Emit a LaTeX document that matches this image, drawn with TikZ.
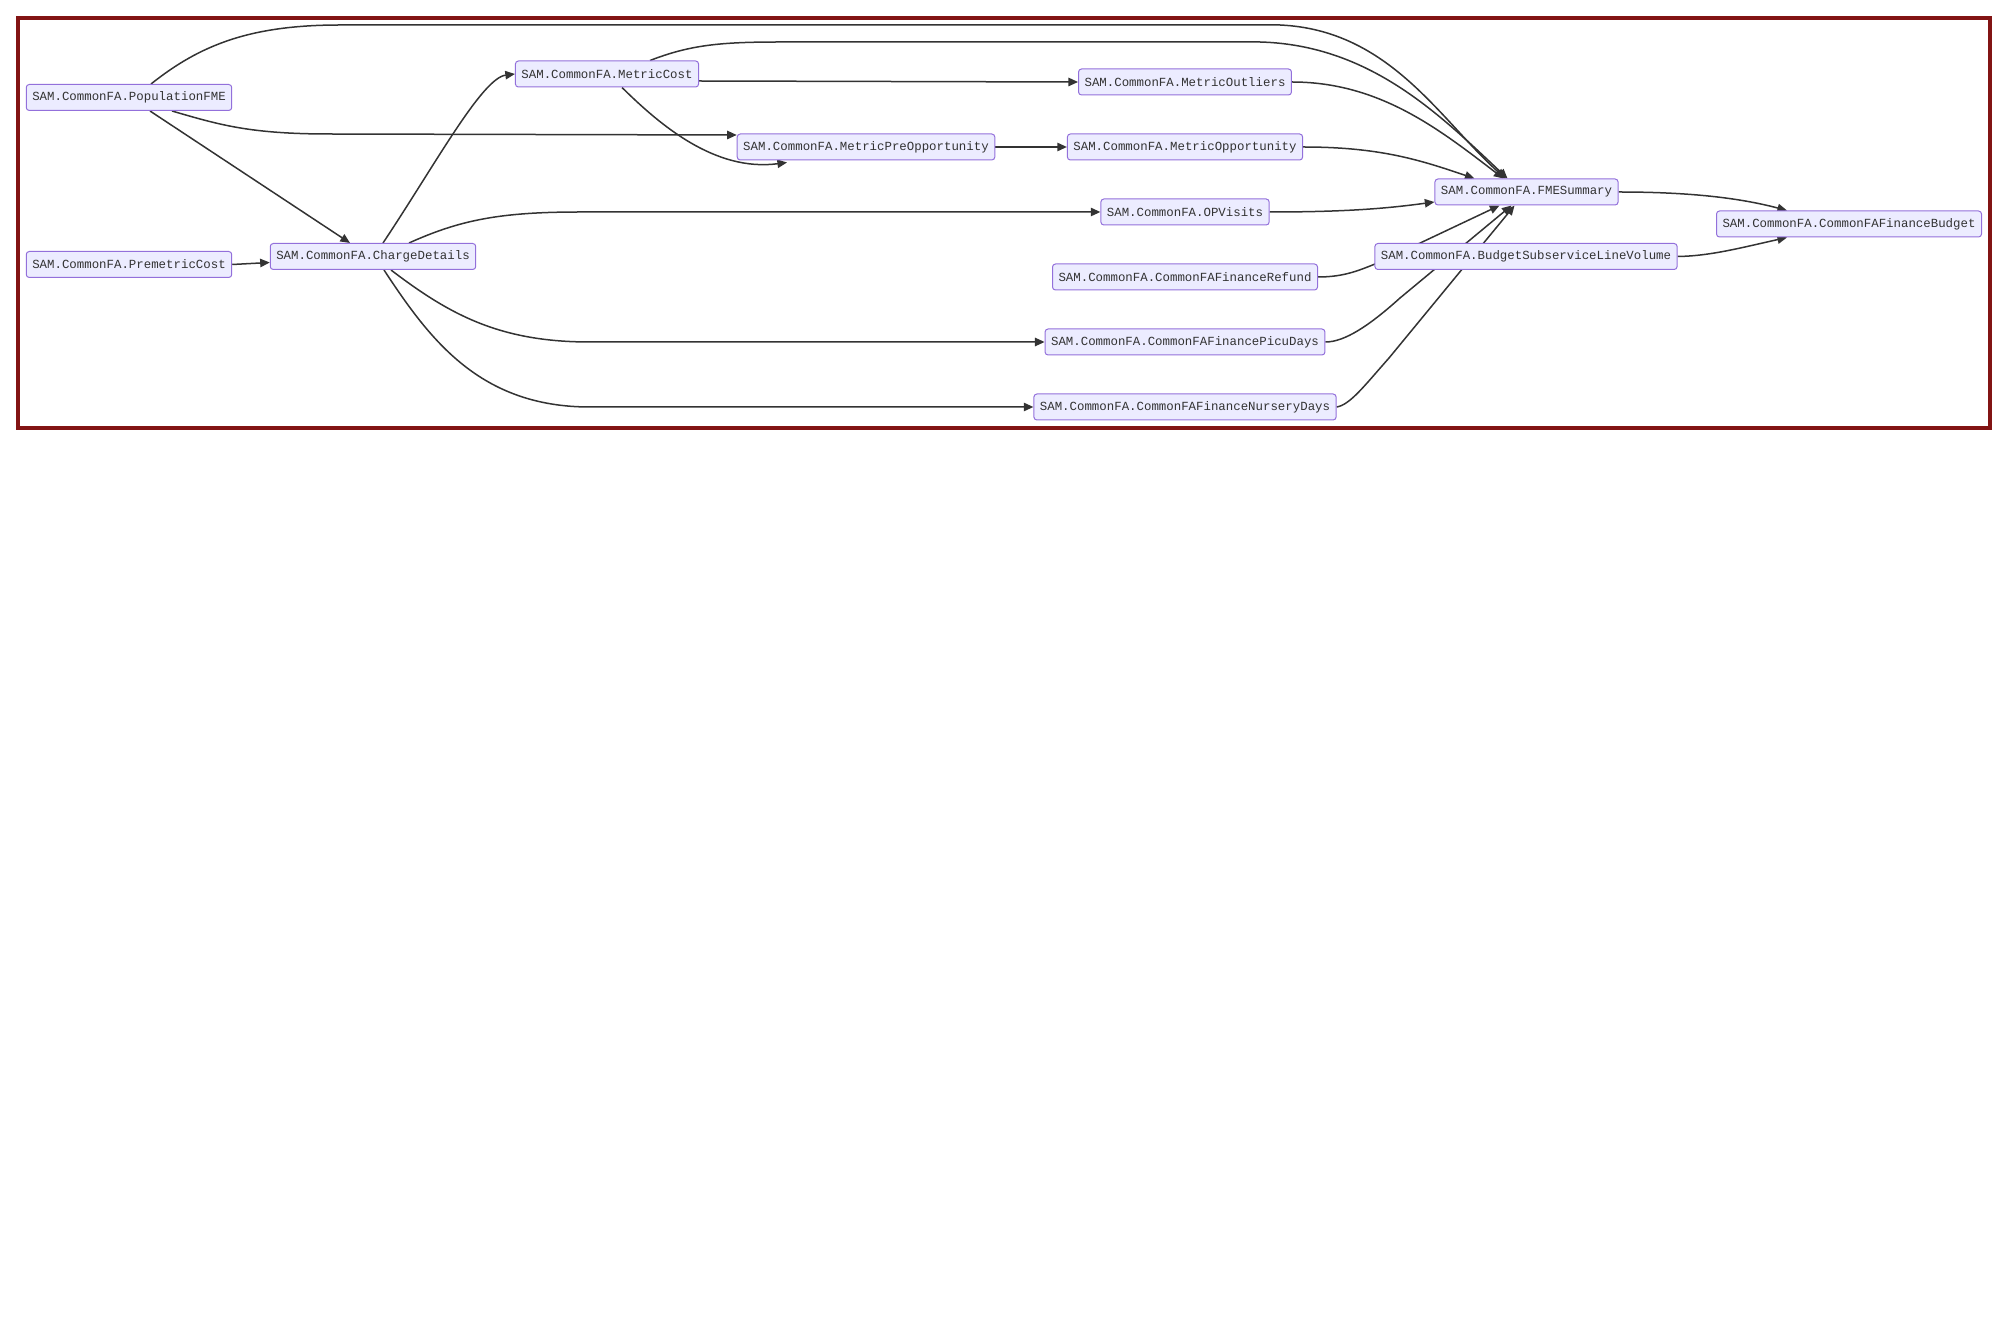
\documentclass[tikz,border=0pt]{standalone}
\usepackage{fontspec}
\newfontfamily\mmfont{Liberation Mono}
\usetikzlibrary{arrows.meta,calc,backgrounds}

\definecolor{mmfill}{HTML}{ECECFF}
\definecolor{mmborder}{HTML}{9370DB}
\definecolor{mmline}{HTML}{333333}
\definecolor{mmtext}{HTML}{333333}
\definecolor{framered}{HTML}{821414}

\tikzset{
  box/.style={draw=mmborder, fill=mmfill, line width=0.5pt, rounded corners=1.5pt,
    inner xsep=3pt, inner ysep=0pt, minimum height=13pt, text=mmtext,
    font={\mmfont\fontsize{6.2pt}{7pt}\selectfont}},
  link/.style={->, draw=mmline, line width=0.75pt},
}

\begin{document}
\begin{tikzpicture}[x=0.5pt, y=-0.5pt, >={Triangle[length=4.8pt,width=4.2pt]}]
        \useasboundingbox (0,0) rectangle (2000,1320);

        % Frame round the flow
        \draw[framered, line width=2.25pt] (18,18) rectangle (1990,428);

        % Sources and first steps
        \node[box] (popfme) at (129,97.5) {SAM.CommonFA.PopulationFME};
        \node[box] (premetric) at (129,264.5) {SAM.CommonFA.PremetricCost};
        \node[box] (charge) at (373,256.5) {SAM.CommonFA.ChargeDetails};
        \node[box] (mcost) at (607,74) {SAM.CommonFA.MetricCost};
        \node[box] (mpreopp) at (866,147) {SAM.CommonFA.MetricPreOpportunity};

        % Middle column
        \foreach \nm/\txt/\y in {moutl/MetricOutliers/82, mopp/MetricOpportunity/147,
            opvis/OPVisits/212, refund/CommonFAFinanceRefund/277,
            picu/CommonFAFinancePicuDays/342, nursery/CommonFAFinanceNurseryDays/407} {
            \node[box] (\nm) at (1185,\y) {SAM.CommonFA.\txt};
        }

        % Summaries
        \node[box] (fmesum) at (1526.5,192) {SAM.CommonFA.FMESummary};
        \node[box] (bslv) at (1526,256.5) {SAM.CommonFA.BudgetSubserviceLineVolume};
        \node[box] (budget) at (1849,224) {SAM.CommonFA.CommonFAFinanceBudget};

        \begin{scope}[on background layer]
            % From PopulationFME
            \draw[link] ($(popfme.north)+(22,0)$) .. controls (200,45) and (250,25) .. (340,25)
                -- (1280,25) .. controls (1390,30) and (1440,120) .. ($(fmesum.north)+(-21,0)$);
            \draw[link] ($(popfme.south)+(43,0)$) .. controls (220,125) and (250,134) .. (330,134)
                -- ($(mpreopp.west)+(0,-12)$);
            \draw[link] ($(popfme.south)+(21,0)$) -- ($(charge.north)+(-23,0)$);
            \draw[link] (premetric.east) -- ($(charge.west)+(0,6)$);

            % From ChargeDetails
            \draw[link] ($(charge.north)+(10,0)$) .. controls (435,165) and (482,78) .. (mcost.west);
            \draw[link] ($(charge.north)+(36,0)$) .. controls (460,220) and (500,212) .. (580,212)
                -- (opvis.west);
            \draw[link] ($(charge.south)+(18,0)$) .. controls (450,315) and (500,342) .. (590,342)
                -- (picu.west);
            \draw[link] ($(charge.south)+(11,0)$) .. controls (430,340) and (480,407) .. (590,407)
                -- (nursery.west);

            % From MetricCost
            \draw[link] ($(mcost.north)+(43,0)$) .. controls (690,45) and (720,42) .. (780,42)
                -- (1260,42) .. controls (1370,45) and (1440,115) .. ($(fmesum.north)+(-19,0)$);
            \draw[link] ($(mcost.east)+(0,7)$) -- (moutl.west);
            \draw[link] ($(mcost.south)+(15,0)$) .. controls (660,125) and (715,172) .. ($(mpreopp.south)+(-79,2)$);
            \draw[link] (mpreopp.east) -- (mopp.west);

            % Into FMESummary
            \draw[link] (moutl.east) .. controls (1380,82) and (1440,130) .. ($(fmesum.north)+(-23,0)$);
            \draw[link] (mopp.east) .. controls (1380,147) and (1420,160) .. ($(fmesum.north)+(-52,0)$);
            \draw[link] (opvis.east) .. controls (1350,212) and (1390,208) .. ($(fmesum.west)+(0,10)$);
            \draw[link] (refund.east) .. controls (1345,277) and (1360,270) .. (1380,262)
                -- ($(fmesum.south)+(-27,0)$);
            \draw[link] (picu.east) .. controls (1345,342) and (1370,325) .. (1400,298)
                -- ($(fmesum.south)+(-15,0)$);
            \draw[link] (nursery.east) .. controls (1350,405) and (1365,385) .. (1389,358)
                -- ($(fmesum.south)+(-12,0)$);

            % Into CommonFAFinanceBudget
            \draw[link] (fmesum.east) .. controls (1690,192) and (1740,198) .. ($(budget.north)+(-62,0)$);
            \draw[link] (bslv.east) .. controls (1710,256) and (1740,248) .. ($(budget.south)+(-62,0)$);
        \end{scope}
\end{tikzpicture}
\end{document}
